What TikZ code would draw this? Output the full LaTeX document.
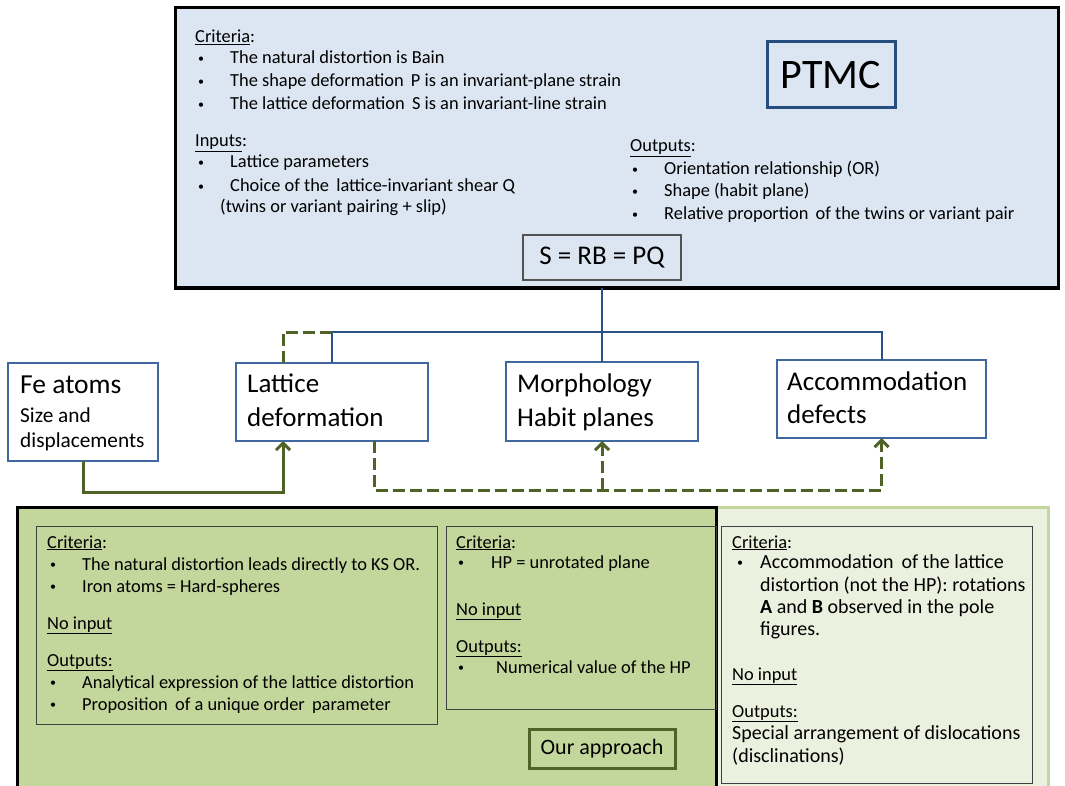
\documentclass[tikz,border=0pt]{standalone}
\usepackage{fontspec}
\setmainfont{Carlito}
\usetikzlibrary{arrows.meta,calc}
\definecolor{topfill}{HTML}{DCE6F2}
\definecolor{ptmcblue}{HTML}{254E7E}
\definecolor{nodeblue}{HTML}{41689E}
\definecolor{treeblue}{HTML}{2A5286}
\definecolor{olive}{HTML}{4F6228}
\definecolor{darkgreen}{HTML}{C3D69B}
\definecolor{lightgreen}{HTML}{EBF1DE}
\definecolor{innerline}{HTML}{404040}
\newcommand{\smallbul}{\raisebox{1.2pt}{\fontsize{12}{12}\selectfont\textbullet}}
\newcommand{\bl}[2]{\makebox[#1pt][l]{\smallbul}#2}
\begin{document}
\begin{tikzpicture}[x=1pt,y=-1pt,
  container/.style={rectangle, inner sep=0pt, outer sep=0pt},
  txt/.style={anchor=base west, inner sep=0pt, font=\fontsize{18.4}{22}\selectfont},
  txtb/.style={anchor=base west, inner sep=0pt, font=\fontsize{20}{22}\selectfont},
  lbl/.style={anchor=base west, inner sep=0pt, font=\fontsize{27}{30}\selectfont},
  midbox/.style={container, draw=nodeblue, line width=1.2pt, fill=white},
  innerbox/.style={container, draw=innerline, line width=1pt},
  treeline/.style={draw=treeblue, line width=2pt},
  gsolid/.style={draw=olive, line width=3pt},
  gdash/.style={draw=olive, line width=3pt, dash pattern=on 12pt off 5pt},
  tip/.style={-{Straight Barb[length=7pt,width=14pt]}}
]
\useasboundingbox (0,0) rectangle (1065,786);
\clip (0,0) rectangle (1065,786);
\fill[white] (0,0) rectangle (1065,786);

% ---------- top PTMC block ----------
\node[container, draw=black, line width=3pt, fill=topfill, minimum width=883, minimum height=280] (top) at (616.5,148) {};
\node[container, draw=ptmcblue, line width=3pt, minimum width=128, minimum height=66, font=\fontsize{42}{46}\selectfont] (ptmc) at (831,75) {PTMC};
\node[container, draw=innerline!90, line width=1.5pt, fill=topfill, minimum width=158, minimum height=45, font=\fontsize{27}{30}\selectfont] (sbox) at (602,257.5) {S = RB = PQ};

\node[txt] (tc) at (195,43) {\underline{Criteria}:};
\node[txt] (tc1) at (198,64) {\bl{32}{The natural distortion is Bain}};
\node[txt] (tc2) at (198,87) {\bl{32}{The shape deformation\, P is an invariant-plane strain}};
\node[txt] (tc3) at (198,110) {\bl{32}{The lattice deformation\, S is an invariant-line strain}};
\node[txt] (ti) at (195,147) {\underline{Inputs}:};
\node[txt] (ti1) at (198,168) {\bl{32}{Lattice parameters}};
\node[txt] (ti2) at (198,192) {\bl{32}{Choice of the\, lattice-invariant shear Q}};
\node[txt] (ti3) at (220,213) {(twins or variant pairing + slip)};
\node[txt] (to) at (630,152) {\underline{Outputs}:};
\node[txt] (to1) at (632,175) {\bl{32}{Orientation relationship (OR)}};
\node[txt] (to2) at (632,197) {\bl{32}{Shape (habit plane)}};
\node[txt] (to3) at (632,220) {\bl{32}{Relative proportion\, of the twins or variant pair}};

% ---------- middle nodes ----------
\node[midbox, minimum width=150, minimum height=98] (fe) at (83,412) {};
\node[anchor=base west, inner sep=0pt, font=\fontsize{27.5}{30}\selectfont] (fe1) at (20,393) {Fe atoms};
\node[anchor=base west, inner sep=0pt, font=\fontsize{21.3}{24}\selectfont] (fe2) at (20,422) {Size and};
\node[anchor=base west, inner sep=0pt, font=\fontsize{21.3}{24}\selectfont] (fe3) at (20,447) {displacements};

\node[midbox, minimum width=192, minimum height=78] (lat) at (332,402) {};
\node[lbl] (lat1) at (247,392) {Lattice};
\node[lbl] (lat2) at (247,426) {deformation};

\node[midbox, minimum width=192, minimum height=79] (morph) at (602,401.5) {};
\node[lbl] (mo1) at (517,392) {Morphology};
\node[lbl] (mo2) at (517,426) {Habit planes};

\node[midbox, minimum width=209, minimum height=78] (acc) at (881.5,399) {};
\node[lbl] (ac1) at (787,390) {Accommodation};
\node[lbl] (ac2) at (787,423) {defects};

% ---------- connectors ----------
\coordinate (bus) at (602,332);
\draw[treeline] (top.south -| morph.north) -- (morph.north);
\draw[treeline] (lat.north) |- (bus) -| (acc.north);
\draw[gdash] ($(lat.north west)+(47,0)$) |- (lat.north |- bus);
\draw[gsolid, tip] (fe.south) -- ++(0,31) -| ($(lat.south west)+(47,0)$);
\coordinate (hb) at (602,490);
\draw[gdash, tip] ($(lat.south west)+(138,0)$) |- (hb) -| (acc.south);
\draw[gdash, tip] (hb) -- (morph.south);

% ---------- bottom block ----------
\node[container, draw=darkgreen, line width=3pt, fill=lightgreen, minimum width=348, minimum height=300, anchor=north west] (light) at (700,507) {};
\node[container, draw=black, line width=3pt, fill=darkgreen, minimum width=699, minimum height=300, anchor=north west] (dark) at (17,507) {};
\node[innerbox, minimum width=401, minimum height=198, anchor=north west] (in1) at (36,526) {};
\node[innerbox, minimum width=270, minimum height=183, anchor=north west] (in2) at (446,526) {};
\node[innerbox, fill=lightgreen, minimum width=311, minimum height=257, anchor=north west] (in3) at (721,526) {};
\node[container, draw=olive, line width=3pt, fill=darkgreen, minimum width=146, minimum height=39, font=\fontsize{22}{26}\selectfont] (our) at (602,748.5) {Our approach};

\node[txt] (a0) at (47,548) {\underline{Criteria}:};
\node[txt] (a1) at (50,570) {\bl{32}{The natural distortion leads directly to KS OR.}};
\node[txt] (a2) at (50,592) {\bl{32}{Iron atoms = Hard-spheres}};
\node[txt] (a3) at (47,629) {\underline{No input}};
\node[txt] (a4) at (47,666) {\underline{Outputs:}};
\node[txt] (a5) at (50,688) {\bl{32}{Analytical expression of the lattice distortion}};
\node[txt] (a6) at (50,710) {\bl{32}{Proposition\, of a unique order\, parameter}};

\node[txt] (b0) at (456,548) {\underline{Criteria}:};
\node[txt] (b1) at (458,568) {\bl{33}{HP = unrotated plane}};
\node[txt] (b2) at (456,615) {\underline{No input}};
\node[txt] (b3) at (456,652) {\underline{Outputs:}};
\node[txt] (b4) at (458,673) {\bl{38}{Numerical value of the HP}};

\node[txt] (c0) at (732,548) {\underline{Criteria}:};
\node[txtb] (c1) at (737,568) {\bl{23}{Accommodation\, of the lattice}};
\node[txtb] (c2) at (760,591) {distortion (not the HP): rotations};
\node[txtb] (c3) at (760,613) {\textbf{A} and \textbf{B} observed in the pole};
\node[txtb] (c4) at (760,635) {figures.};
\node[txt] (c5) at (732,680) {\underline{No input}};
\node[txt] (c6) at (732,717) {\underline{Outputs:}};
\node[txtb] (c7) at (732,739) {Special arrangement of dislocations};
\node[txtb] (c8) at (732,762) {(disclinations)};
\end{tikzpicture}
\end{document}
